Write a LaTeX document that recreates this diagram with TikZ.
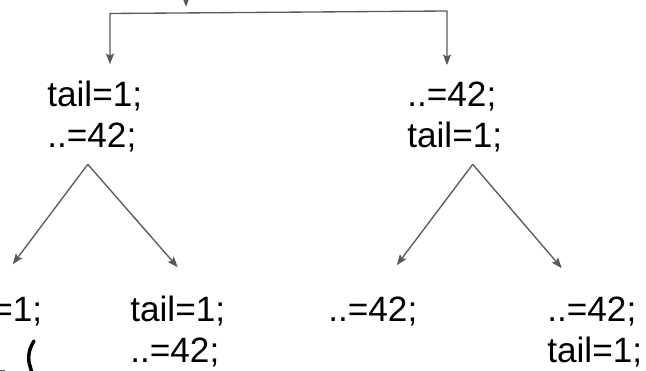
\documentclass[tikz,border=0pt]{standalone}
\usepackage{fontspec}
\setmainfont{Liberation Sans}
\usetikzlibrary{positioning, arrows.meta}
\definecolor{arrowgray}{HTML}{595959}

\begin{document}
\begin{tikzpicture}[
x=0.75pt, y=-0.75pt,
stmt/.style={anchor=base west, inner sep=0pt, text=black,
    font=\fontsize{26.4pt}{31.5pt}\selectfont},
next/.style={below=31pt of #1.base west, stmt},
rail/.style={draw, color=arrowgray, line width=1pt},
link/.style={rail, -{Stealth[length=8pt, width=6pt, inset=1.5pt]}}
]

\useasboundingbox (0,0) rectangle (646,371);
\clip (0,0) rectangle (646,371);

% first level
\node[stmt] (a-tail) at (47,106) {tail=1;};
\node[next=a-tail] (a-val) {..=42;};

\node[stmt] (b-val) at (407,106) {..=42;};
\node[next=b-val] (b-tail) {tail=1;};

% second level
\node[stmt] (aa-tail) at (-53,321) {tail=1;};

\node[stmt] (ab-tail) at (130,321) {tail=1;};
\node[next=ab-tail] (ab-val) {..=42;};

\node[stmt] (ba-val) at (328,321) {..=42;};

\node[stmt] (bb-val) at (547,321) {..=42;};
\node[next=bb-val] (bb-tail) {tail=1;};

% fork at the top
\coordinate (root) at (186,-20);
\coordinate (fork-l) at (110,13.5);
\coordinate (fork-r) at (447,11);
\coordinate (fork-top) at (186,12.9);

\path[link, shorten >=4.5pt] (root) -- (fork-top);
\path[rail, {Stealth[length=8pt, width=6pt, inset=1.5pt]}-{Stealth[length=8pt, width=6pt, inset=1.5pt]},
    shorten <=12pt, shorten >=12pt]
    (fork-l |- a-tail.north) -- (fork-l) -- (fork-r) -- (fork-r |- b-val.north);

% branches
\coordinate (a-split) at ([shift={(-4,17)}]a-val.base);
\coordinate (b-split) at ([shift={(18,17)}]b-tail.base);

\path[link] (a-split) -- ([shift={(18,-31)}]aa-tail.north);
\path[link] (a-split) -- ([shift={(0,-28)}]ab-tail.north);
\path[link] (b-split) -- ([shift={(24,-31)}]ba-val.north);
\path[link] (b-split) -- ([shift={(-30,-28)}]bb-val.north);

% pen stroke, lower left
\draw[line width=2.6pt, line cap=round] (34,341) .. controls (29,349) and (28,356) .. (29,362)
    .. controls (30,366) .. (32,373);
\draw[rail] (-5,370.5) -- (5,370.5);

\end{tikzpicture}
\end{document}
